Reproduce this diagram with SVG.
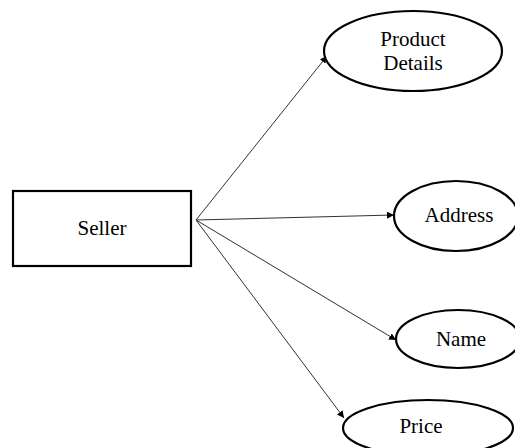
<svg xmlns="http://www.w3.org/2000/svg" width="515" height="448" viewBox="0 0 515 448">
<style>
.n{fill:#fff;stroke:#000;stroke-width:2.2}
.t{font-family:"Liberation Serif","DejaVu Serif",serif;font-size:21px;fill:#000;text-anchor:middle}
.c{stroke:#333;stroke-width:1;fill:none;marker-end:url(#a)}
</style>
<defs>
<marker id="a" viewBox="0 0 10 10" refX="10" refY="5" markerWidth="7" markerHeight="7" orient="auto" markerUnits="userSpaceOnUse">
<path d="M0,0L10,5L0,10z" fill="#000"/>
</marker>
</defs>
<rect width="515" height="448" fill="#fff"/>
<g id="edges">
<line class="c" x1="196" y1="220" x2="327" y2="56"/>
<line class="c" x1="196" y1="220" x2="394" y2="215"/>
<line class="c" x1="196" y1="220" x2="396" y2="340"/>
<line class="c" x1="196" y1="220" x2="344" y2="418"/>
</g>
<g id="seller">
<rect class="n" x="13" y="191" width="178" height="75"/>
<text class="t" x="102" y="235">Seller</text>
</g>
<g id="product">
<ellipse class="n" cx="413" cy="51" rx="89" ry="40"/>
<text class="t" x="413" y="46">Product</text>
<text class="t" x="413" y="70">Details</text>
</g>
<g id="address">
<ellipse class="n" cx="456" cy="216" rx="62" ry="35"/>
<text class="t" x="459" y="222">Address</text>
</g>
<g id="name">
<ellipse class="n" cx="458" cy="339" rx="62" ry="29"/>
<text class="t" x="461" y="346">Name</text>
</g>
<g id="price">
<ellipse class="n" cx="428" cy="428" rx="85" ry="28"/>
<text class="t" x="421" y="433">Price</text>
</g>
</svg>
